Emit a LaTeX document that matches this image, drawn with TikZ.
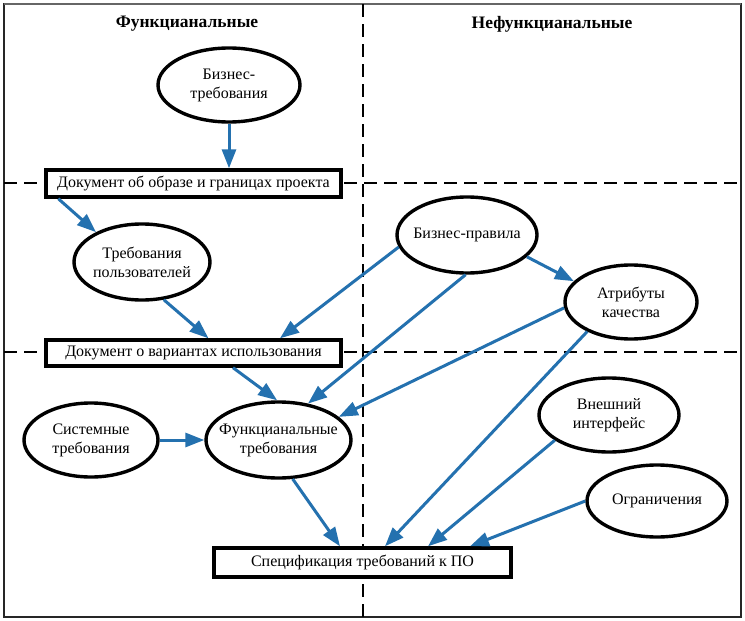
\documentclass[tikz,border=0pt]{standalone}
\usepackage{fontspec}
\setmainfont{Liberation Serif}
\usetikzlibrary{arrows.meta,shapes.geometric,calc}
\definecolor{arr}{RGB}{36,113,175}
\newcommand{\zb}[1]{\makebox[0pt]{#1}}
\begin{document}
\begin{tikzpicture}[x=1pt,y=-1pt,
  txt/.style={font=\fontsize{16}{19}\selectfont, align=center},
  oval/.style={txt, ellipse, draw, line width=3.4pt, inner sep=0pt},
  docbox/.style={txt, rectangle, draw, line width=3.4pt, inner sep=0pt},
  hdr/.style={font=\fontsize{17.5}{20}\selectfont\bfseries},
  link/.style={draw=arr, line width=3pt, -{Triangle[length=19pt,width=14pt]}, color=arr},
  sep/.style={line width=1.8pt, dash pattern=on 13pt off 7pt}]
\useasboundingbox (0,0) rectangle (745,621);
\fill[white] (0,0) rectangle (745,621);
\draw[line width=1.8pt, draw=black!85] (4,4) rectangle (741,617);
\draw[line width=2.4pt, draw=black!60] (4,4) -- (741,4);
% separators
\draw[sep] (4,183) -- (741,183);
\draw[sep] (4,352) -- (741,352);
\draw[sep] (363,4) -- (363,621);
% headers
\node[hdr] (h1) at (187,24) {Функцианальные};
\node[hdr] (h2) at (552,24) {Нефункцианальные};
% nodes
\node[oval, minimum width=142pt, minimum height=74pt] (bt) at (229,85) {\zb{Бизнес-}\\\zb{требования}};
\node[docbox, fill=white, minimum width=295pt, minimum height=27pt] (doc1) at (193.5,183.5) {Документ об образе и границах проекта};
\node[oval, minimum width=136pt, minimum height=76pt] (tp) at (142,262) {\zb{Требования}\\\zb{пользователей}};
\node[docbox, fill=white, minimum width=295pt, minimum height=26pt] (doc2) at (193.5,353) {Документ о вариантах использования};
\node[oval, fill=white, minimum width=140pt, minimum height=76pt] (br) at (467,235) {\zb{Бизнес-правила}};
\node[oval, fill=white, minimum width=132pt, minimum height=74pt] (aq) at (631,302) {\zb{Атрибуты}\\\zb{качества}};
\node[oval, minimum width=145pt, minimum height=76pt] (ft) at (278.5,440) {\zb{Функцианальные}\\\zb{требования}};
\node[oval, minimum width=134pt, minimum height=74pt] (st) at (91,440) {\zb{Системные}\\\zb{требования}};
\node[docbox, fill=white, minimum width=297pt, minimum height=29pt] (spec) at (362.5,562.5) {Спецификация требований к ПО};
\node[oval, minimum width=140pt, minimum height=74pt] (vi) at (609,415) {\zb{Внешний}\\\zb{интерфейс}};
\node[oval, minimum width=140pt, minimum height=72pt] (og) at (657,501) {\zb{Ограничения}};
% connectors
\draw[link] (bt.south) -- (bt.south |- doc1.north);
\draw[link] ($(doc1.south west)+(14,0)$) -- (tp.147);
\draw[link] (tp.300) -- ($(doc2.north)+(15,0)$);
\draw[link] (br.190) -- ($(doc2.north)+(86.5,0)$);
\draw[link] (br.268) -- (ft.51);
\draw[link] (aq.185) -- (ft.21);
\draw[link] (aq.214) -- ($(spec.north)+(22.5,0)$);
\draw[link] (ft.290) -- ($(spec.north)+(-22.5,0)$);
\draw[link] ($(doc2.south)+(39.5,0)$) -- (ft.92);
\draw[link] (st.east) -- (ft.west);
\draw[link] (vi.205) -- ($(spec.north)+(65.5,0)$);
\draw[link] (og.west) -- ($(spec.north)+(107.5,0)$);
\draw[link] (br.340) -- (aq.160);
\end{tikzpicture}
\end{document}
